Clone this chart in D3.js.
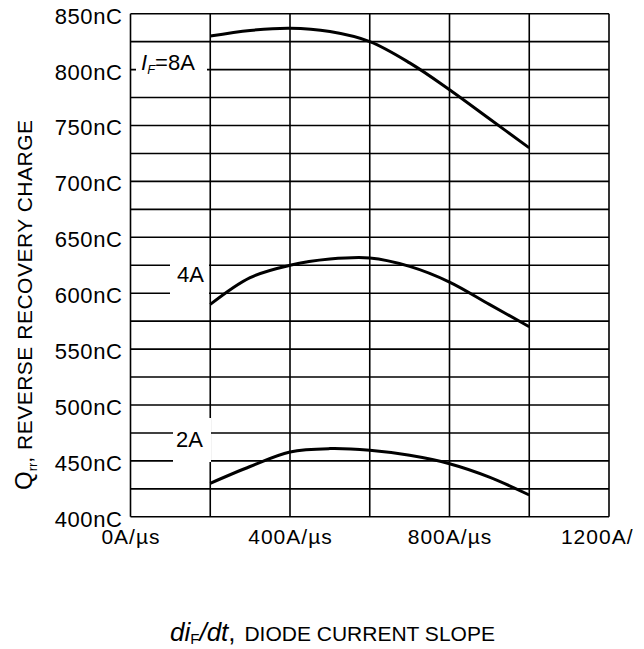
<!DOCTYPE html>
<html>
<head>
<meta charset="utf-8">
<script src="https://cdn.jsdelivr.net/npm/d3@7"></script>
<style>
  body { margin: 0; background: #fff; }
  svg { display: block; font-family: "Liberation Sans", Arial, sans-serif; }
</style>
</head>
<body>
<svg id="qrrChart"></svg>
<script>
// reverse recovery charge vs diode current slope
const diDt = [200, 300, 400, 500, 600, 700, 800, 900, 1000];
const qrr8A = [830, 835, 837, 834, 825, 806, 782, 756, 730];
const qrr4A = [590, 614, 625, 630.5, 631.5, 624, 610, 590, 570];
const qrr2A = [430, 445, 458, 461, 459.5, 455, 447.5, 435.5, 419.5];

const xTicks = [0, 400, 800, 1200];
const xGrid = [0, 200, 400, 600, 800, 1000, 1200];
const yTicks = [400, 450, 500, 550, 600, 650, 700, 750, 800, 850];
const yGrid = [400, 425, 450, 475, 500, 525, 550, 575, 600, 625, 650, 675, 700, 725, 750, 775, 800, 825, 850];

const margin = {top: 13.7, right: 35, bottom: 132, left: 130.5};
const width = 609 - margin.left;
const height = 516.8 - margin.top;

const svg = d3.select("svg#qrrChart")
    .attr("width", 633)
    .attr("height", 649);

const g = svg.append("g")
    .attr("transform", "translate(" + margin.left + "," + margin.top + ")");

const x = d3.scaleLinear().domain([0, 1200]).range([0, width]);
const y = d3.scaleLinear().domain([400, 850]).range([height, 0]);

// grid
g.append("g").selectAll("line")
    .data(yGrid)
    .enter().append("line")
    .attr("x1", 0).attr("x2", width)
    .attr("y1", (d) => y(d)).attr("y2", (d) => y(d))
    .attr("stroke", "#000").attr("stroke-width", 1.6);

g.append("g").selectAll("line")
    .data(xGrid)
    .enter().append("line")
    .attr("x1", (d) => x(d)).attr("x2", (d) => x(d))
    .attr("y1", 0).attr("y2", height)
    .attr("stroke", "#000").attr("stroke-width", 1.6);

// white patches behind the curve labels
const patches = [
    {x0: 136, x1: 207, y0: 50, y1: 90},
    {x0: 170, x1: 209, y0: 258, y1: 298},
    {x0: 173, x1: 211, y0: 418, y1: 462},
];
svg.append("g").selectAll("rect")
    .data(patches)
    .enter().append("rect")
    .attr("x", (d) => d.x0).attr("y", (d) => d.y0)
    .attr("width", (d) => d.x1 - d.x0).attr("height", (d) => d.y1 - d.y0)
    .attr("fill", "#fff");

// axes (labels only)
const yAxis = g.append("g")
    .call(d3.axisLeft(y).tickValues(yTicks).tickSize(0).tickPadding(8).tickFormat((d) => d + "nC"));
yAxis.select(".domain").remove();
yAxis.selectAll("text")
    .attr("dy", "0.43em")
    .style("font-size", "22px")
    .style("letter-spacing", "0.6px")
    .attr("fill", "#000");

const xAxis = g.append("g")
    .attr("transform", "translate(0," + height + ")")
    .call(d3.axisBottom(x).tickValues(xTicks).tickSize(0).tickPadding(12).tickFormat((d) => d + "A/µs"));
xAxis.select(".domain").remove();
xAxis.selectAll("text")
    .style("font-size", "21px")
    .style("letter-spacing", "1px")
    .attr("fill", "#000");

// curves
const line = d3.line()
    .x((d) => x(d[0]))
    .y((d) => y(d[1]))
    .curve(d3.curveCatmullRom.alpha(0.5));

[qrr8A, qrr4A, qrr2A].forEach((vals) => {
    g.append("path")
        .datum(diDt.map((d, i) => [d, vals[i]]))
        .attr("d", line)
        .attr("fill", "none")
        .attr("stroke", "#000")
        .attr("stroke-width", 3);
});

// curve labels
const lab8 = svg.append("text")
    .attr("x", 141).attr("y", 70)
    .style("font-size", "22px");
lab8.append("tspan").style("font-style", "italic").text("I");
lab8.append("tspan").style("font-style", "italic").style("font-size", "13px").attr("dy", 4).text("F");
lab8.append("tspan").attr("dy", -4).text("=8A");

svg.append("text").attr("x", 177).attr("y", 282).style("font-size", "22px").text("4A");
svg.append("text").attr("x", 176).attr("y", 447).style("font-size", "22px").text("2A");

// y title
const yTitle = svg.append("text")
    .attr("transform", "translate(32,490) rotate(-90)");
yTitle.append("tspan").style("font-size", "24px").text("Q");
yTitle.append("tspan").style("font-size", "13px").attr("dy", 5).text("rr");
yTitle.append("tspan").style("font-size", "21px").style("letter-spacing", "0.5px").attr("dy", -5).text(", REVERSE RECOVERY CHARGE");

// x title
const xTitle = svg.append("text")
    .attr("x", 170).attr("y", 641);
xTitle.append("tspan").style("font-size", "26px").style("font-style", "italic").text("di");
xTitle.append("tspan").style("font-size", "15px").attr("dy", 3).text("F");
xTitle.append("tspan").style("font-size", "26px").style("font-style", "italic").attr("dy", -3).text("/dt");
xTitle.append("tspan").style("font-size", "26px").text(",");
xTitle.append("tspan").style("font-size", "21px").attr("dx", 3).text(" DIODE CURRENT SLOPE");
</script>
</body>
</html>
